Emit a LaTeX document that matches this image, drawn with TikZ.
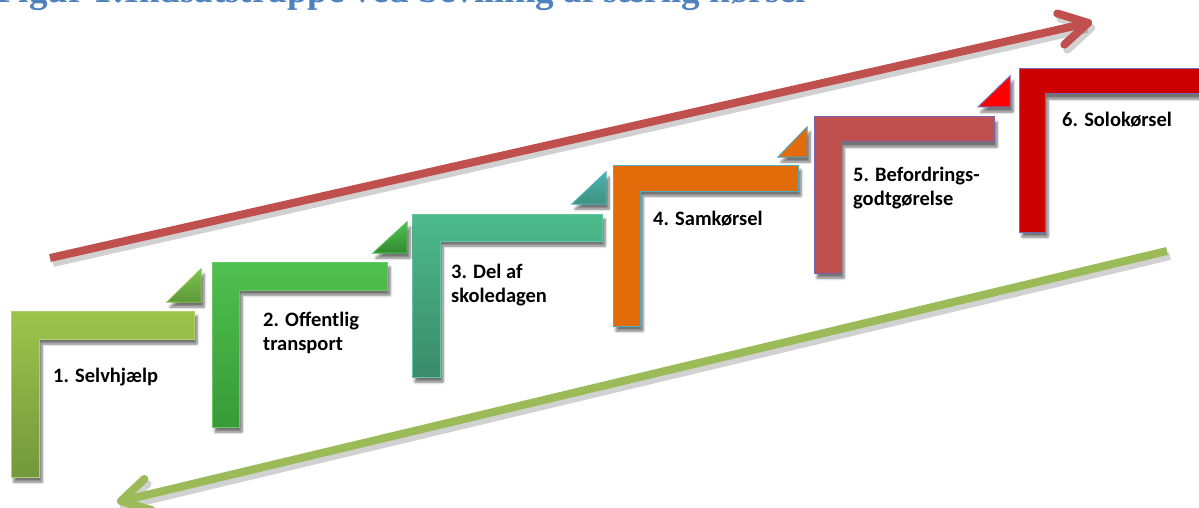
\documentclass[tikz,border=0pt]{standalone}
\usepackage{fontspec}
\setmainfont{Carlito}
\newfontfamily\titlefont{Liberation Serif}
\usetikzlibrary{arrows.meta,shadows,shadows.blur}
\definecolor{titleblue}{HTML}{4F81BD}
\definecolor{arrred}{HTML}{C0504D}
\definecolor{arrgreen}{HTML}{9BBB59}
\definecolor{sa}{HTML}{9DC44C}\definecolor{sb}{HTML}{73983A}
\definecolor{sc}{HTML}{4FC04F}\definecolor{sd}{HTML}{389A38}
\definecolor{se}{HTML}{4CBB8C}\definecolor{sf}{HTML}{3A8B6B}
\definecolor{sorange}{HTML}{E36C0A}
\definecolor{sred}{HTML}{C0504D}
\definecolor{sdark}{HTML}{CC0000}
\definecolor{tred}{HTML}{FF0000}
\definecolor{outblue}{HTML}{4BACC6}
\definecolor{outpurple}{HTML}{7A66B0}
\begin{document}
\begin{tikzpicture}[x=1pt,y=-1pt,
  shad/.style={blur shadow={shadow xshift=3pt,shadow yshift=-5pt,shadow blur radius=2.5pt,shadow blur steps=6,shadow opacity=55}},
  stepshape/.style={shad,line width=1pt},
  label/.style={anchor=base west,inner sep=0pt,align=left,font=\bfseries\fontsize{20.5}{23.5}\selectfont},
  arr/.style={line width=8pt,-{Straight Barb[length=28pt,width=32pt,round]}},
  arrshadow/.style={arr,draw=black,opacity=0.18}]
\useasboundingbox (0,0) rectangle (1199,508);
\clip (0,0) rectangle (1199,508);
\node[anchor=base west,inner sep=0pt,text=titleblue,font=\titlefont\bfseries\fontsize{37}{40}\selectfont] (title) at (-4,2.5) {Figur 1:Indsatstrappe ved bevilling af særlig kørsel};
% arrows
\coordinate (rtail) at (50,258);
\coordinate (rtip) at (1092,22);
\coordinate (gtail) at (1167,251);
\coordinate (gtip) at (117,502);
\draw[arrshadow] ([shift={(3,5)}]rtail) -- ([shift={(3,5)}]rtip);
\draw[arrshadow] ([shift={(3,5)}]gtail) -- ([shift={(3,5)}]gtip);
\draw[arr,draw=arrred] (rtail) -- (rtip);
\draw[arr,draw=arrgreen] (gtail) -- (gtip);
% steps
\path[stepshape,draw=sa!80!white,top color=sa,bottom color=sb]
  (11,311) -- (194,311) -- (194,339) -- (39,339) -- (39,477) -- (11,477) -- cycle;
\path[stepshape,draw=sc!85!white,top color=sc,bottom color=sd]
  (212,262) -- (387,262) -- (387,290) -- (239,290) -- (239,427) -- (212,427) -- cycle;
\path[stepshape,draw=se!85!white,top color=se,bottom color=sf]
  (412,214) -- (602,214) -- (602,241) -- (440,241) -- (440,377) -- (412,377) -- cycle;
\path[stepshape,draw=outblue,fill=sorange]
  (613,165) -- (798,165) -- (798,191) -- (640,191) -- (640,326) -- (613,326) -- cycle;
\path[stepshape,draw=outpurple,fill=sred]
  (814,117) -- (994,117) -- (994,142) -- (841,142) -- (841,273) -- (814,273) -- cycle;
\path[stepshape,draw=outpurple,fill=sdark]
  (1019,69) -- (1215,69) -- (1215,94) -- (1045,94) -- (1045,232) -- (1019,232) -- cycle;
% triangles
\path[stepshape,draw=sa!70!sc,top color=sa!60!sc,bottom color=sb!60!sd]
  (167,302) -- (201,269) -- (201,302) -- cycle;
\path[stepshape,draw=sc,top color=sc,bottom color=sd!90!black]
  (373,253) -- (407,222) -- (407,253) -- cycle;
\path[stepshape,draw=outblue!80!se,top color=outblue!60!se,bottom color=sf!80!outblue]
  (572,204) -- (606,172) -- (606,204) -- cycle;
\path[stepshape,draw=outblue!70!titleblue,fill=sorange]
  (778,157) -- (807,127) -- (807,157) -- cycle;
\path[stepshape,draw=outpurple,fill=tred]
  (978,107) -- (1010,76) -- (1010,107) -- cycle;
% labels (base = last line's baseline)
\node[label] (l1) at (53,382) {1. Selvhjælp};
\node[label] (l2) at (263,350) {2. Offentlig\\transport};
\node[label] (l3) at (451,302) {3. Del af\\skoledagen};
\node[label] (l4) at (653,225) {4. Samkørsel};
\node[label] (l5) at (853,205) {5. Befordrings-\\godtgørelse};
\node[label] (l6) at (1062,127) {6. Solokørsel};
\end{tikzpicture}
\end{document}
